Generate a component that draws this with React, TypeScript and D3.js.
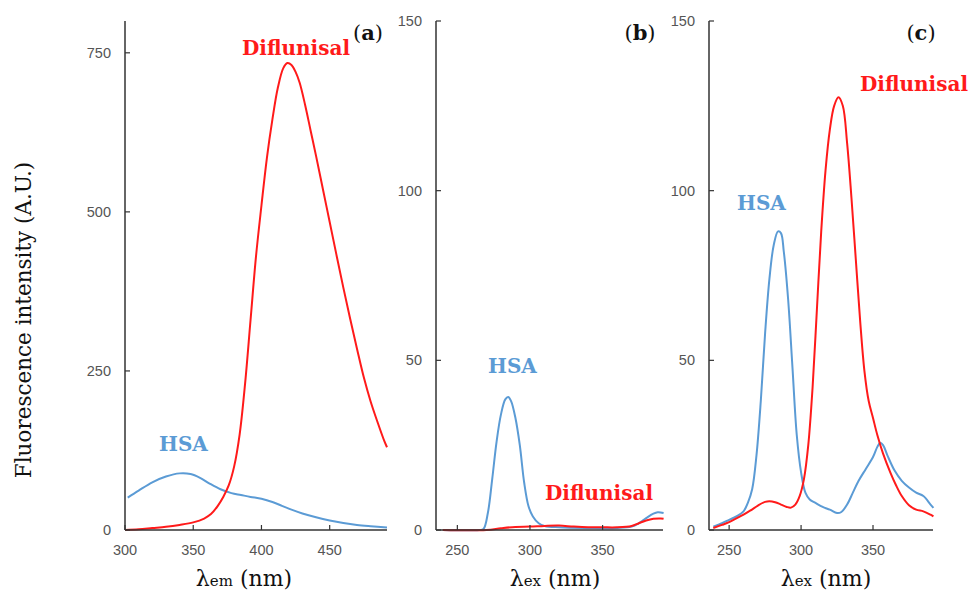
import * as d3 from "d3";
import React from "react";

// ---- data ----
// panel (a): emission spectra, wavelength (nm) -> intensity
const emDiflunisalNm = [300, 310, 320, 330, 340, 350, 358, 363, 368, 372, 376, 380, 384, 388, 392, 396, 400, 404, 408, 412, 416, 419, 422, 425, 428, 432, 436, 440, 445, 450, 455, 460, 465, 470, 475, 480, 485, 490, 492];
const emDiflunisalVal = [0, 1, 3, 5, 8, 12, 18, 25, 38, 52, 70, 100, 150, 230, 330, 430, 510, 585, 645, 695, 726, 734, 731, 720, 703, 668, 628, 588, 536, 484, 432, 381, 332, 285, 240, 202, 170, 140, 130];
const emHsaNm = [302, 310, 320, 330, 340, 348, 355, 362, 370, 378, 385, 392, 400, 408, 415, 422, 430, 440, 450, 460, 470, 480, 492];
const emHsaVal = [51, 62, 75, 84, 89, 88, 82, 73, 64, 58, 55, 52, 49, 44, 38, 32, 26, 20, 15, 11, 8, 6, 4];

// panel (b): excitation spectra
const exBHsaNm = [240, 265, 268, 271, 274, 277, 280, 283, 285, 287, 290, 293, 296, 299, 302, 306, 310, 320, 340, 360, 370, 375, 380, 385, 388, 392];
const exBHsaVal = [0, 0, 0.3, 5, 15, 26, 34, 38.5, 39.2, 38, 33, 25, 14, 7, 4, 2, 1.2, 0.8, 0.6, 0.6, 1, 2, 3.5, 4.8, 5.2, 5];
const exBDiflunisalNm = [240, 270, 280, 290, 300, 310, 320, 330, 340, 350, 360, 370, 375, 380, 385, 390, 392];
const exBDiflunisalVal = [0, 0, 0.5, 0.9, 1, 1.2, 1.3, 1, 0.8, 0.8, 0.8, 1.2, 2, 2.8, 3.3, 3.4, 3.3];

// panel (c): excitation spectra
const exCHsaNm = [239, 245, 250, 255, 260, 263, 266, 269, 272, 275, 278, 281, 284, 286, 288, 291, 294, 297, 300, 303, 306, 310, 315, 320, 325, 328, 332, 336, 340, 345, 350, 353, 355, 357, 360, 365, 370, 375, 380, 385, 390, 392];
const exCHsaVal = [1, 2, 3, 4, 5.5, 8, 12, 22, 38, 58, 74, 84, 88, 87.5, 82, 68, 48, 28, 17, 11, 9, 8, 6.8, 6, 5, 5.3, 7.5, 11, 14.5, 18, 21.5, 24.5, 25.7, 25, 22, 17.5, 14.5, 12.5, 11, 10, 7.5, 6.5];
const exCDiflunisalNm = [239, 245, 250, 255, 260, 265, 270, 275, 278, 282, 286, 290, 293, 296, 299, 302, 305, 308, 311, 314, 317, 320, 323, 326, 329, 332, 335, 338, 341, 344, 347, 350, 353, 357, 362, 366, 370, 375, 380, 385, 390, 392];
const exCDiflunisalVal = [0.6, 1.5, 2.3, 3.4, 4.5, 5.8, 7.2, 8.3, 8.5, 8.2, 7.5, 6.8, 6.6, 7.5, 10, 15, 25, 42, 65, 88, 106, 118, 125, 127.5, 125, 114, 98, 80, 62, 47, 38, 33, 28, 22.5, 17, 13.2, 10, 7.3, 6, 5.5, 4.5, 4];

const yTicksA = [0, 250, 500, 750];
const yTicksBC = [0, 50, 100, 150];
const xTicksA = [300, 350, 400, 450];
const xTicksBC = [250, 300, 350];

const RED = "#ff1a1a";
const BLUE = "#5b9bd5";
const SERIF = "'DejaVu Serif', serif";
const SANS = "'Liberation Sans', Arial, sans-serif";

const zip = (xs: number[], ys: number[]) => xs.map((x, i) => [x, ys[i]] as [number, number]);

type Label = { text: string; x: number; y: number; color: string };

type PanelProps = {
  left: number;
  right: number;
  xDomain: [number, number];
  yMax: number;
  xTicks: number[];
  yTicks: number[];
  series: { data: [number, number][]; color: string }[];
  sub: string;
  titleX: number;
  tag: string;
  tagX: number;
  labels: Label[];
};

const TOP = 21;
const BOTTOM = 530;

function Panel({ left, right, xDomain, yMax, xTicks, yTicks, series, sub, titleX, tag, tagX, labels }: PanelProps) {
  const x = d3.scaleLinear().domain(xDomain).range([left, right]);
  const y = d3.scaleLinear().domain([0, yMax]).range([BOTTOM, TOP]);
  const line = d3
    .line<[number, number]>()
    .x((d) => x(d[0]))
    .y((d) => y(d[1]))
    .curve(d3.curveCatmullRom.alpha(0.5));

  return (
    <g>
      {series.map((s, i) => (
        <path key={i} d={line(s.data) || ""} fill="none" stroke={s.color} strokeWidth={2} />
      ))}
      {/* axes, ticks pointing inward */}
      <line x1={left} x2={left} y1={TOP} y2={BOTTOM} stroke="#333" strokeWidth={1.5} />
      <line x1={left} x2={right} y1={BOTTOM} y2={BOTTOM} stroke="#333" strokeWidth={1.5} />
      {yTicks.map((t) => (
        <g key={"y" + t}>
          <line x1={left} x2={left + 5} y1={y(t)} y2={y(t)} stroke="#333" strokeWidth={1.2} />
          <text x={left - 14} y={y(t)} dy="0.35em" textAnchor="end" fontFamily={SANS} fontSize={14.5} fill="#555">
            {t}
          </text>
        </g>
      ))}
      {xTicks.map((t) => (
        <g key={"x" + t}>
          <line x1={x(t)} x2={x(t)} y1={BOTTOM} y2={BOTTOM - 5} stroke="#333" strokeWidth={1.2} />
          <text x={x(t)} y={555} textAnchor="middle" fontFamily={SANS} fontSize={14.5} fill="#555">
            {t}
          </text>
        </g>
      ))}
      <text x={titleX} y={586} textAnchor="middle" fontFamily={SERIF} fontSize={22} fill="#111">
        λ<tspan fontSize={15}>{sub}</tspan> (nm)
      </text>
      <text x={tagX} y={40} textAnchor="middle" fontFamily={SERIF} fontSize={21} fill="#111">
        (<tspan fontWeight="bold">{tag}</tspan>)
      </text>
      {labels.map((l, i) => (
        <text key={i} x={l.x} y={l.y} fontFamily={SERIF} fontWeight="bold" fontSize={20} fill={l.color}>
          {l.text}
        </text>
      ))}
    </g>
  );
}

export default function App() {
  return (
    <svg width={975} height={592} style={{ position: "absolute", left: 0, top: 0, background: "#fff" }}>
      <text transform="translate(31,320) rotate(-90)" textAnchor="middle" fontFamily={SERIF} fontSize={21.5} fill="#111">
        Fluorescence intensity (A.U.)
      </text>
      <Panel
        left={125}
        right={387}
        xDomain={[300, 492]}
        yMax={800}
        xTicks={xTicksA}
        yTicks={yTicksA}
        series={[
          { data: zip(emHsaNm, emHsaVal), color: BLUE },
          { data: zip(emDiflunisalNm, emDiflunisalVal), color: RED },
        ]}
        sub="em"
        titleX={244}
        tag="a"
        tagX={368}
        labels={[
          { text: "Diflunisal", x: 242, y: 55, color: RED },
          { text: "HSA", x: 159, y: 451, color: BLUE },
        ]}
      />
      <Panel
        left={436}
        right={663}
        xDomain={[235.3, 391.6]}
        yMax={150}
        xTicks={xTicksBC}
        yTicks={yTicksBC}
        series={[
          { data: zip(exBHsaNm, exBHsaVal), color: BLUE },
          { data: zip(exBDiflunisalNm, exBDiflunisalVal), color: RED },
        ]}
        sub="ex"
        titleX={555}
        tag="b"
        tagX={640}
        labels={[
          { text: "HSA", x: 488, y: 373, color: BLUE },
          { text: "Diflunisal", x: 545, y: 500, color: RED },
        ]}
      />
      <Panel
        left={709}
        right={933}
        xDomain={[236, 391.7]}
        yMax={150}
        xTicks={xTicksBC}
        yTicks={yTicksBC}
        series={[
          { data: zip(exCHsaNm, exCHsaVal), color: BLUE },
          { data: zip(exCDiflunisalNm, exCDiflunisalVal), color: RED },
        ]}
        sub="ex"
        titleX={826}
        tag="c"
        tagX={921}
        labels={[
          { text: "HSA", x: 737, y: 210, color: BLUE },
          { text: "Diflunisal", x: 860, y: 91, color: RED },
        ]}
      />
    </svg>
  );
}
